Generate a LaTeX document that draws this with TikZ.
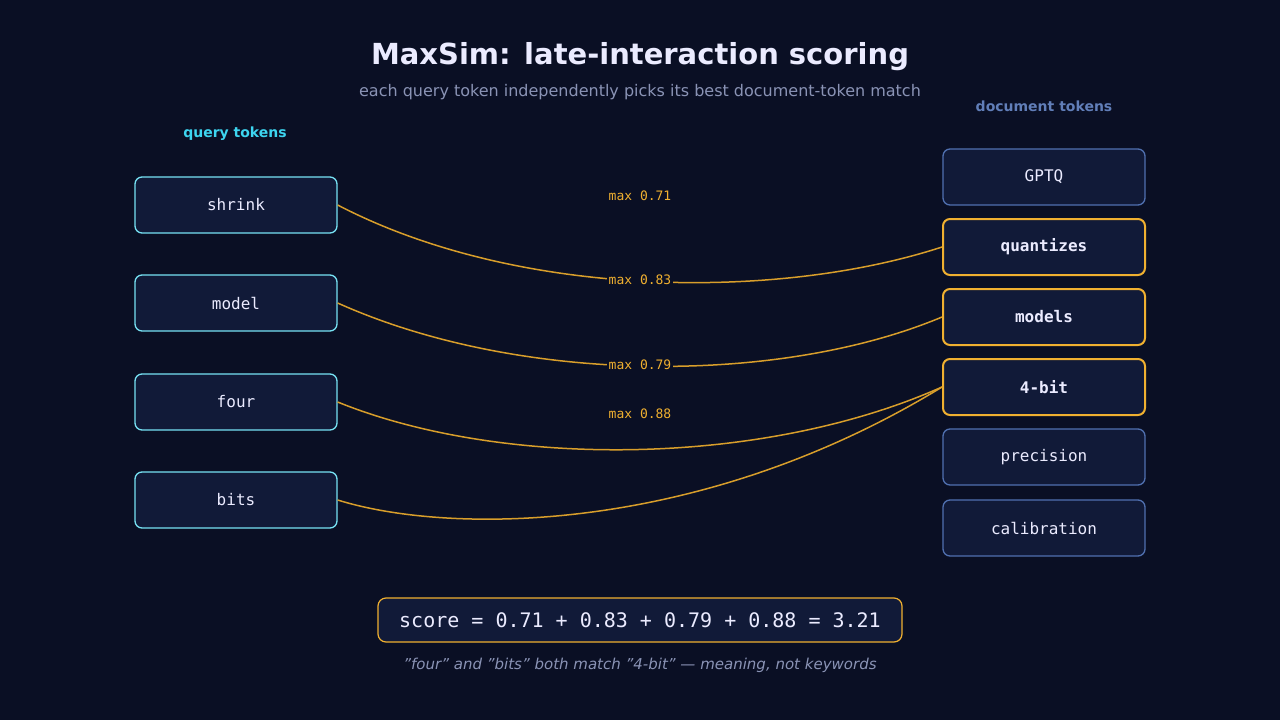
\documentclass[tikz,border=0pt]{standalone}
\usepackage{fontspec}
\setmainfont{DejaVu Sans}
\setmonofont{DejaVu Sans Mono}
\begin{document}
\begin{tikzpicture}[x=1pt,y=-1pt,
  qbox/.style={draw=cyan!70!white, line width=1.3pt, fill=boxbg, rounded corners=7pt, minimum width=202pt, minimum height=56pt, text=white!92!blue, font=\ttfamily\fontsize{16}{19}\selectfont},
  dbox/.style={draw=docblue, line width=1.3pt, fill=boxbg, rounded corners=7pt, minimum width=202pt, minimum height=56pt, text=white!92!blue, font=\ttfamily\fontsize{16}{19}\selectfont},
  hbox/.style={dbox, draw=hl, line width=2pt, font=\ttfamily\bfseries\fontsize{16}{19}\selectfont},
  link/.style={draw=hl!90!black, line width=1.5pt},
  lab/.style={text=hl, font=\ttfamily\fontsize{13}{15}\selectfont, inner sep=2pt}]
\definecolor{bg}{HTML}{0A0F24}
\definecolor{boxbg}{HTML}{111A38}
\definecolor{docblue}{HTML}{5070B0}
\definecolor{hl}{HTML}{F0B030}
\definecolor{cyan}{HTML}{3DD5F0}
\definecolor{grey}{HTML}{8A93B5}
\useasboundingbox[fill=bg] (0,0) rectangle (1280,720);
\node (title) at (640,57) [text=white!92!blue, font=\bfseries\fontsize{29}{34}\selectfont] {MaxSim: late-interaction scoring};
\node (sub) at (640,92) [text=grey, font=\fontsize{16}{19}\selectfont] {each query token independently picks its best document-token match};
\node (ql) at (235,134) [text=cyan, font=\bfseries\fontsize{14}{17}\selectfont] {query tokens};
\node (dl) at (1044,106) [text=docblue!90!white, font=\bfseries\fontsize{14}{17}\selectfont] {document tokens};
\node[qbox] (q1) at (236,205) {shrink};
\node[qbox] (q2) at (236,303) {model};
\node[qbox] (q3) at (236,402) {four};
\node[qbox] (q4) at (236,500) {bits};
\node[dbox] (d1) at (1044,177) {GPTQ};
\node[hbox] (d2) at (1044,247) {quantizes};
\node[hbox] (d3) at (1044,317) {models};
\node[hbox] (d4) at (1044,387) {4-bit};
\node[dbox] (d5) at (1044,457) {precision};
\node[dbox] (d6) at (1044,528) {calibration};
\draw[link] (q1.east) .. controls (520,300) and (780,300) .. (d2.west);
\draw[link] (q2.east) .. controls (520,385) and (780,385) .. (d3.west);
\draw[link] (q3.east) .. controls (500,468) and (760,468) .. (d4.west);
\draw[link] (q4.east) .. controls (450,535) and (700,535) .. (d4.west);
\node[lab] (m1) at (640,196) {max 0.71};
\node[lab, fill=bg] (m2) at (640,280) {max 0.83};
\node[lab, fill=bg] (m3) at (640,365) {max 0.79};
\node[lab] (m4) at (640,414) {max 0.88};
\node (score) at (640,620) [draw=hl, line width=1.2pt, fill=boxbg, rounded corners=8pt, minimum width=524pt, minimum height=44pt, text=white!92!blue, font=\ttfamily\fontsize{20}{24}\selectfont] {score = 0.71 + 0.83 + 0.79 + 0.88 = 3.21};
\node (foot) at (640,665) [text=grey, font=\itshape\fontsize{15}{18}\selectfont] {"four" and "bits" both match "4-bit" — meaning, not keywords};
\end{tikzpicture}
\end{document}
